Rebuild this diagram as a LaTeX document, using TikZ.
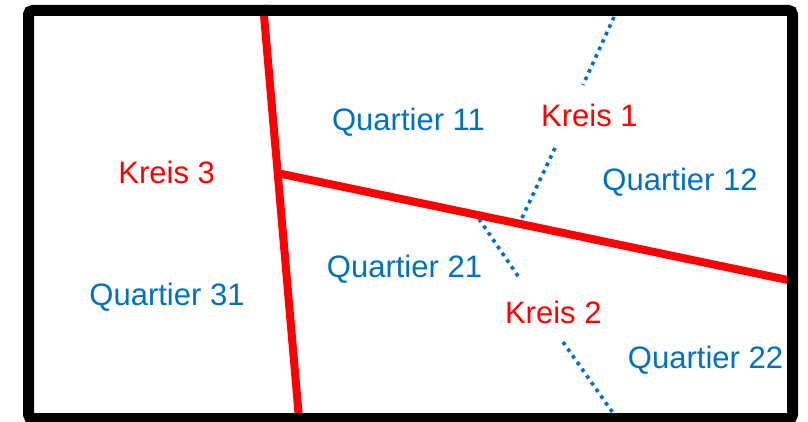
\documentclass[tikz,border=0pt]{standalone}
\usepackage{fontspec}
\setmainfont{Liberation Sans}
\definecolor{qblue}{HTML}{0070C0}
\definecolor{kred}{HTML}{FF0000}
\tikzset{
  boundary/.style={draw=kred, line width=8pt},
  subline/.style={draw=qblue, line width=3.6pt, dash pattern=on 3.6pt off 4.6pt},
  frame/.style={draw=black, line width=11pt, rounded corners=4pt},
  qlabel/.style={text=qblue, font=\fontsize{31}{36}\selectfont, anchor=base, inner sep=0pt},
  klabel/.style={text=kred, font=\fontsize{31}{36}\selectfont, anchor=base, inner sep=0pt},
}
\begin{document}
\begin{tikzpicture}[x=1pt,y=-1pt]
\useasboundingbox (0,0) rectangle (808,422);
% red boundaries
\coordinate (vtop) at (263.1,5);
\coordinate (vbot) at (299.3,422);
\coordinate (hleft) at (277,173);
\coordinate (hright) at (795,281.5);
\draw[boundary] (vtop) -- (vbot);
\draw[boundary] (hleft) -- (hright);
% dotted sub-boundaries
\coordinate (a1) at (614,17);
\coordinate (a2) at (583,85);
\coordinate (a3) at (555,148);
\coordinate (a4) at (521,220);
\draw[subline] (a1) -- (a2);
\draw[subline] (a3) -- (a4);
\coordinate (b1) at (479,219);
\coordinate (b2) at (520,279);
\coordinate (b3) at (563,342);
\coordinate (b4) at (613,413);
\draw[subline] (b1) -- (b2);
\draw[subline] (b3) -- (b4);
% frame
\draw[frame] (28.5,10.5) rectangle (792.5,418.5);
% labels
\node[qlabel] (q11) at (408.5,131) {Quartier 11};
\node[klabel] (k1) at (589.4,126.7) {Kreis 1};
\node[klabel] (k3) at (166.7,183.3) {Kreis 3};
\node[qlabel] (q12) at (680,190) {Quartier 12};
\node[qlabel] (q21) at (404.5,277.5) {Quartier 21};
\node[qlabel] (q31) at (167,305) {Quartier 31};
\node[klabel] (k2) at (553.3,323.3) {Kreis 2};
\node[qlabel] (q22) at (705.5,368.5) {Quartier 22};
\end{tikzpicture}
\end{document}
